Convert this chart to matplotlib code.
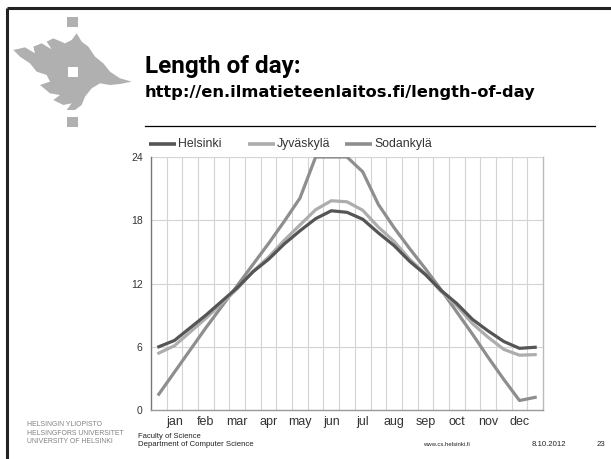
import numpy as np
import matplotlib
matplotlib.use("Agg")
import matplotlib.pyplot as plt
from matplotlib.patches import Polygon, Rectangle

plt.rcParams['font.family'] = ['Liberation Sans', 'DejaVu Sans']

# half-month steps: Jan 1, Jan 15, Feb 1, ... Dec 15, Dec 31
months = ['jan', 'feb', 'mar', 'apr', 'may', 'jun',
          'jul', 'aug', 'sep', 'oct', 'nov', 'dec']
helsinki = [6.0, 6.6, 7.8, 9.0, 10.3, 11.6, 13.1, 14.3, 15.75, 17.0, 18.15, 18.9, 18.75,
            18.1, 16.8, 15.6, 14.1, 12.85, 11.35, 10.1, 8.6, 7.5, 6.5, 5.85, 5.95]
jyvaskyla = [5.4, 6.1, 7.4, 8.7, 10.1, 11.5, 13.15, 14.5, 16.1, 17.55, 19.0, 19.85, 19.75,
             18.95, 17.35, 16.0, 14.3, 12.9, 11.25, 9.9, 8.2, 6.9, 5.75, 5.2, 5.25]
sodankyla = [1.5, 3.6, 5.7, 7.8, 9.8, 11.8, 13.8, 15.8, 17.9, 20.1, 24.0, 24.0, 24.0,
             22.6, 19.5, 17.3, 15.3, 13.4, 11.4, 9.3, 7.2, 5.0, 2.9, 0.9, 1.2]
names = ['Helsinki', 'Jyväskylä', 'Sodankylä']
colors = ['#555555', '#adadad', '#8e8e8e']
yticks = [0, 6, 12, 18, 24]

W, H = 611, 459
fig = plt.figure(figsize=(W / 100, H / 100), dpi=100)
renderer = fig.canvas.get_renderer()

# decoration layer in pixel coordinates
deco = fig.add_axes([0, 0, 1, 1])
deco.set_xlim(0, W)
deco.set_ylim(H, 0)
deco.axis('off')


def fit_text(x0, x1, y, s, size, **kw):
    # scale the font so the string spans x0..x1 pixels like in the slide
    t = deco.text(x0, y, s, fontsize=size, **kw)
    w = t.get_window_extent(renderer).width
    t.set_fontsize(size * (x1 - x0) / w)
    return t


deco.plot([7, W], [8, 8], color='#222222', lw=2.2, solid_capstyle='butt')
deco.plot([7, 7], [8, H], color='#222222', lw=2.2, solid_capstyle='butt')
deco.plot([145, 595], [126, 126], color='black', lw=0.9)

# university logo (rough flame)
flame = [(10, 120), (45, 112), (75, 130), (70, 110), (95, 100), (125, 118), (110, 95),
         (130, 85), (165, 100), (185, 90), (200, 70), (215, 95), (235, 110), (255, 140),
         (280, 160), (300, 185), (330, 205), (365, 215), (330, 222), (300, 225),
         (270, 220), (245, 235), (225, 260), (215, 285), (195, 300), (170, 300),
         (185, 280), (160, 285), (130, 270), (150, 255), (120, 250), (90, 225),
         (120, 215), (110, 195), (80, 185), (60, 160), (30, 140)]
flame = [(10 + x / 3, 10 + y / 3) for x, y in flame]
deco.add_patch(Polygon(flame, closed=True, color='#b0b0b0', lw=0))
deco.add_patch(Rectangle((67, 17), 11, 10, color='#b0b0b0', lw=0))
deco.add_patch(Rectangle((67, 117), 11, 10, color='#b0b0b0', lw=0))
deco.add_patch(Rectangle((67.5, 67), 10.5, 10, color='white', lw=0))

fit_text(145, 300, 73, 'Length of day:', 20, fontweight='bold', va='baseline',
         family=['Roboto', 'Liberation Sans'])
fit_text(145, 535, 97, 'http://en.ilmatieteenlaitos.fi/length-of-day', 11,
         fontweight='bold', va='baseline', family=['DejaVu Sans'])

# legend
leg_x = [149, 248, 345]
for x0, name, c in zip(leg_x, names, colors):
    deco.plot([x0, x0 + 27], [144, 144], color=c, lw=2.6, solid_capstyle='butt')
    deco.text(x0 + 29, 144, name, fontsize=8.8, color='#333333', va='center')

# footer
uni = ['HELSINGIN YLIOPISTO', 'HELSINGFORS UNIVERSITET', 'UNIVERSITY OF HELSINKI']
uni_end = [104, 125, 114]
for i, (s, xe) in enumerate(zip(uni, uni_end)):
    fit_text(27, xe, 425 + i * 8.3, s, 5, color='#808080', va='center')
fit_text(138, 200, 436.5, 'Faculty of Science', 5.2, va='center', color='#222222')
fit_text(138, 253, 445, 'Department of Computer Science', 5.2, va='center', color='#222222')
fit_text(423, 470, 444, 'www.cs.helsinki.fi', 5.2, va='center', color='#222222')
fit_text(532, 567, 444, '8.10.2012', 5.2, va='center', color='#222222')
deco.text(597, 444, '23', fontsize=5.6, va='center', color='#222222')

# chart
ax = fig.add_axes([151 / W, 1 - 410 / H, (543 - 151) / W, (410 - 157) / H])
x = np.arange(len(helsinki))
ax.plot(x, sodankyla, color=colors[2], lw=2.3, solid_joinstyle='round')
ax.plot(x, jyvaskyla, color=colors[1], lw=2.3, solid_joinstyle='round')
ax.plot(x, helsinki, color=colors[0], lw=2.3, solid_joinstyle='round')

ax.set_xlim(-0.5, 24.5)
ax.set_ylim(0, 24)
for gx in np.arange(0.5, 24, 1):
    ax.axvline(gx, color='#d3d3d3', lw=0.8, zorder=0)
for gy in yticks[1:]:
    ax.axhline(gy, color='#d3d3d3', lw=0.8, zorder=0)

ax.set_xticks(np.arange(1, 24, 2))
ax.set_xticklabels(months, fontsize=9, color='#333333')
ax.set_yticks(yticks)
ax.set_yticklabels([str(v) for v in yticks], fontsize=7.5, color='#333333')
ax.tick_params(length=0, pad=6)
ax.tick_params(axis='x', pad=4)
ax.spines['top'].set_visible(False)
ax.spines['left'].set_color('#777777')
ax.spines['bottom'].set_color('#999999')
ax.spines['right'].set_color('#bbbbbb')
for s in ax.spines.values():
    s.set_linewidth(1.0)

fig.savefig('out.png', dpi=100)
